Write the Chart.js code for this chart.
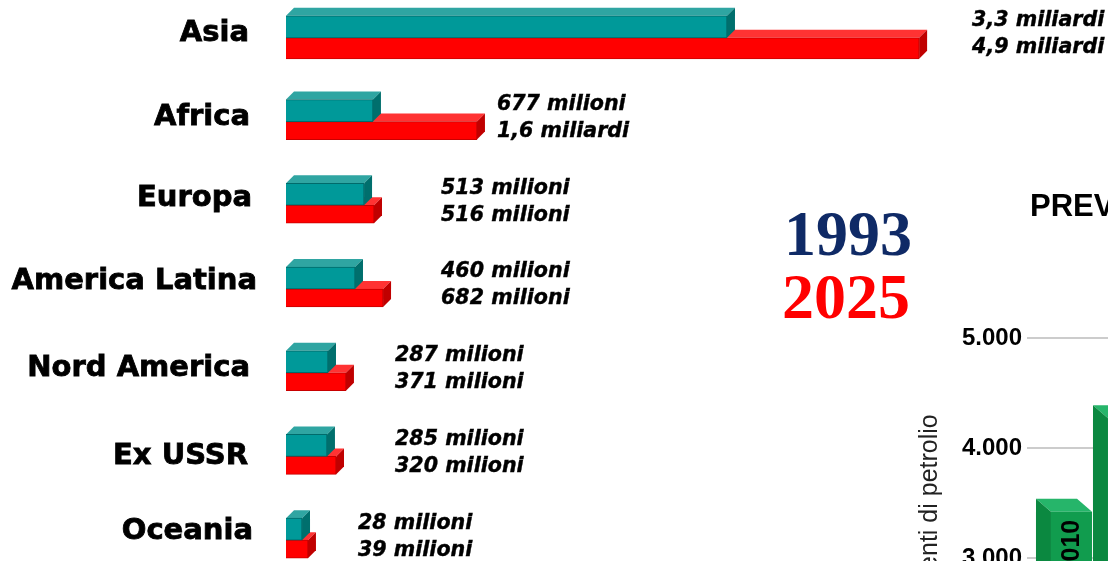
<!DOCTYPE html>
<html>
<head>
<meta charset="utf-8">
<title>Popolazione 1993 - 2025</title>
<script src="https://cdn.jsdelivr.net/npm/chart.js@4"></script>
<style>
html, body { margin: 0; padding: 0; background: #fff; overflow: hidden; width: 1108px; height: 561px; }
canvas { position: absolute; }
#popChart { left: 0; top: -4px; }
#oilChart { left: 900px; top: 190px; }
</style>
</head>
<body>
<canvas id="popChart" width="1108" height="586"></canvas>
<canvas id="oilChart" width="257" height="720"></canvas>
<script>
// left panel: bar lengths as drawn in the picture (not proportional to the printed labels)
const regions = ['Asia', 'Africa', 'Europa', 'America Latina', 'Nord America', 'Ex USSR', 'Oceania'];
const bars1993 = [3413, 673, 604, 534, 325, 317, 124];
const bars2025 = [4900, 1478, 681, 751, 464, 387, 170];
const labels1993 = ['3,3 miliardi', '677 milioni', '513 milioni', '460 milioni', '287 milioni', '285 milioni', '28 milioni'];
const labels2025 = ['4,9 miliardi', '1,6 miliardi', '516 milioni', '682 milioni', '371 milioni', '320 milioni', '39 milioni'];

// right panel, cropped by the window
const oilYears = ['2010', '2020'];
const oilValues = [3420, 4270];
const oilTicks = [0, 1000, 2000, 3000, 4000, 5000];

// layout tweaks for the hand placed texts of the left panel
const regionRight = [249, 250, 252, 257, 250, 248, 253];
const regionShift = [-4, -4, -7, -8, -4, 0, -9];
const labelGap = [53, 20, 67, 58, 49, 59, 50];

const bars3d = {
    id: 'bars3d',
    afterDatasetsUpdate(chart) {
        // the Asia red bar is a bit thicker than the others
        const asia = chart.getDatasetMeta(1).data[0];
        asia.height += 3;
        asia.y += 1.5;
    },
    beforeDatasetDraw(chart, args) {
        const ctx = chart.ctx;
        const ds = chart.data.datasets[args.index];
        const meta = args.meta;
        ctx.save();
        meta.data.forEach(bar => {
            const right = bar.x, top = bar.y - bar.height / 2, bottom = bar.y + bar.height / 2, left = bar.base;
            ctx.fillStyle = ds.topColor;
            ctx.beginPath();
            ctx.moveTo(left, top);
            ctx.lineTo(left + 8, top - 8);
            ctx.lineTo(right + 8, top - 8);
            ctx.lineTo(right, top);
            ctx.closePath();
            ctx.fill();
            ctx.fillStyle = ds.sideColor;
            ctx.beginPath();
            ctx.moveTo(right, top);
            ctx.lineTo(right + 8, top - 8);
            ctx.lineTo(right + 8, bottom - 8);
            ctx.lineTo(right, bottom);
            ctx.closePath();
            ctx.fill();
        });
        ctx.restore();
    },
    afterDraw(chart) {
        const ctx = chart.ctx;
        const yScale = chart.scales.y;
        const red = chart.getDatasetMeta(1).data;
        ctx.save();
        ctx.fillStyle = '#000';
        ctx.strokeStyle = '#000';
        ctx.textBaseline = 'middle';
        regions.forEach((name, i) => {
            const mid = yScale.getPixelForTick(i);
            ctx.textAlign = 'right';
            ctx.font = 'bold 29px "DejaVu Sans"';
            ctx.lineWidth = 0.8;
            ctx.fillText(name, regionRight[i], mid + regionShift[i]);
            ctx.strokeText(name, regionRight[i], mid + regionShift[i]);
            ctx.textAlign = 'left';
            ctx.font = 'italic bold 20.6px "DejaVu Sans"';
            ctx.lineWidth = 0.4;
            const x = red[i].x + labelGap[i];
            ctx.fillText(labels1993[i], x, mid - 17);
            ctx.strokeText(labels1993[i], x, mid - 17);
            ctx.fillText(labels2025[i], x, mid + 10);
            ctx.strokeText(labels2025[i], x, mid + 10);
        });
        // year key
        ctx.font = 'bold 64px "Liberation Serif"';
        ctx.textAlign = 'left';
        ctx.fillStyle = '#0f2a66';
        ctx.fillText(chart.data.datasets[0].label, 784, 242);
        ctx.fillStyle = '#ff0000';
        ctx.fillText(chart.data.datasets[1].label, 782, 305);
        ctx.restore();
    }
};

new Chart(document.getElementById('popChart'), {
    type: 'bar',
    plugins: [bars3d],
    data: {
        labels: regions,
        datasets: [
            {
                label: '1993',
                data: bars1993,
                backgroundColor: '#009999',
                borderColor: '#006b6b',
                borderWidth: 1,
                topColor: '#2fa5a2',
                sideColor: '#006f6d',
                barThickness: 22
            },
            {
                label: '2025',
                data: bars2025,
                backgroundColor: '#ff0000',
                borderColor: '#c80000',
                borderWidth: 1,
                topColor: '#ff3333',
                sideColor: '#c00000',
                barThickness: 18
            }
        ]
    },
    options: {
        indexAxis: 'y',
        responsive: false,
        animation: false,
        layout: { padding: { left: 286 } },
        plugins: { legend: { display: false }, tooltip: { enabled: false } },
        scales: {
            x: { display: false, min: 0, max: 6362 },
            y: { display: false }
        }
    }
});

const oil3d = {
    id: 'oil3d',
    beforeDatasetDraw(chart, args) {
        const ctx = chart.ctx;
        ctx.save();
        args.meta.data.forEach(bar => {
            const left = bar.x - bar.width / 2, right = bar.x + bar.width / 2, top = bar.y, bottom = bar.base;
            ctx.fillStyle = '#26b56a';
            ctx.beginPath();
            ctx.moveTo(left, top);
            ctx.lineTo(left - 15, top - 13);
            ctx.lineTo(right - 15, top - 13);
            ctx.lineTo(right, top);
            ctx.closePath();
            ctx.fill();
            ctx.fillStyle = '#0b8840';
            ctx.beginPath();
            ctx.moveTo(left, top);
            ctx.lineTo(left - 15, top - 13);
            ctx.lineTo(left - 15, bottom - 13);
            ctx.lineTo(left, bottom);
            ctx.closePath();
            ctx.fill();
        });
        ctx.restore();
    },
    afterDraw(chart) {
        const ctx = chart.ctx;
        const meta = chart.getDatasetMeta(0);
        ctx.save();
        ctx.fillStyle = '#000';
        ctx.font = 'bold 25px "Liberation Sans"';
        ctx.textBaseline = 'middle';
        meta.data.forEach((bar, i) => {
            ctx.save();
            ctx.translate(bar.x + 1, bar.y + 8);
            ctx.rotate(-Math.PI / 2);
            ctx.textAlign = 'right';
            ctx.fillText(oilYears[i], 0, 0);
            ctx.restore();
        });
        // title, only its start is inside the window
        ctx.font = 'bold 31px "Liberation Sans"';
        ctx.textAlign = 'left';
        ctx.fillText('PREV', 130, 17);
        ctx.restore();
    }
};

new Chart(document.getElementById('oilChart'), {
    type: 'bar',
    plugins: [oil3d],
    data: {
        labels: oilYears,
        datasets: [{ data: oilValues, backgroundColor: '#119c4e', barPercentage: 0.72, categoryPercentage: 1 }]
    },
    options: {
        responsive: false,
        animation: false,
        layout: { padding: { top: 148, bottom: 22 } },
        plugins: { legend: { display: false }, tooltip: { enabled: false } },
        scales: {
            x: { display: false },
            y: {
                min: 0,
                max: 5000,
                afterBuildTicks(scale) { scale.ticks = oilTicks.map(value => ({ value })); },
                afterFit(scale) { scale.width = 143; },
                grid: { color: '#cccccc', lineWidth: 2, tickLength: 16 },
                border: { display: false },
                ticks: {
                    padding: 5,
                    color: '#000',
                    font: { family: 'Liberation Sans', weight: 'bold', size: 24 },
                    callback: v => String(v).replace(/(\d)(\d{3})$/, '$1.$2')
                },
                title: {
                    display: true,
                    text: 'Mln tonnellate equivalenti di petrolio',
                    color: '#222',
                    font: { family: 'Liberation Sans', size: 25 },
                    padding: { top: 15, bottom: 0 }
                }
            }
        }
    }
});
</script>
</body>
</html>
